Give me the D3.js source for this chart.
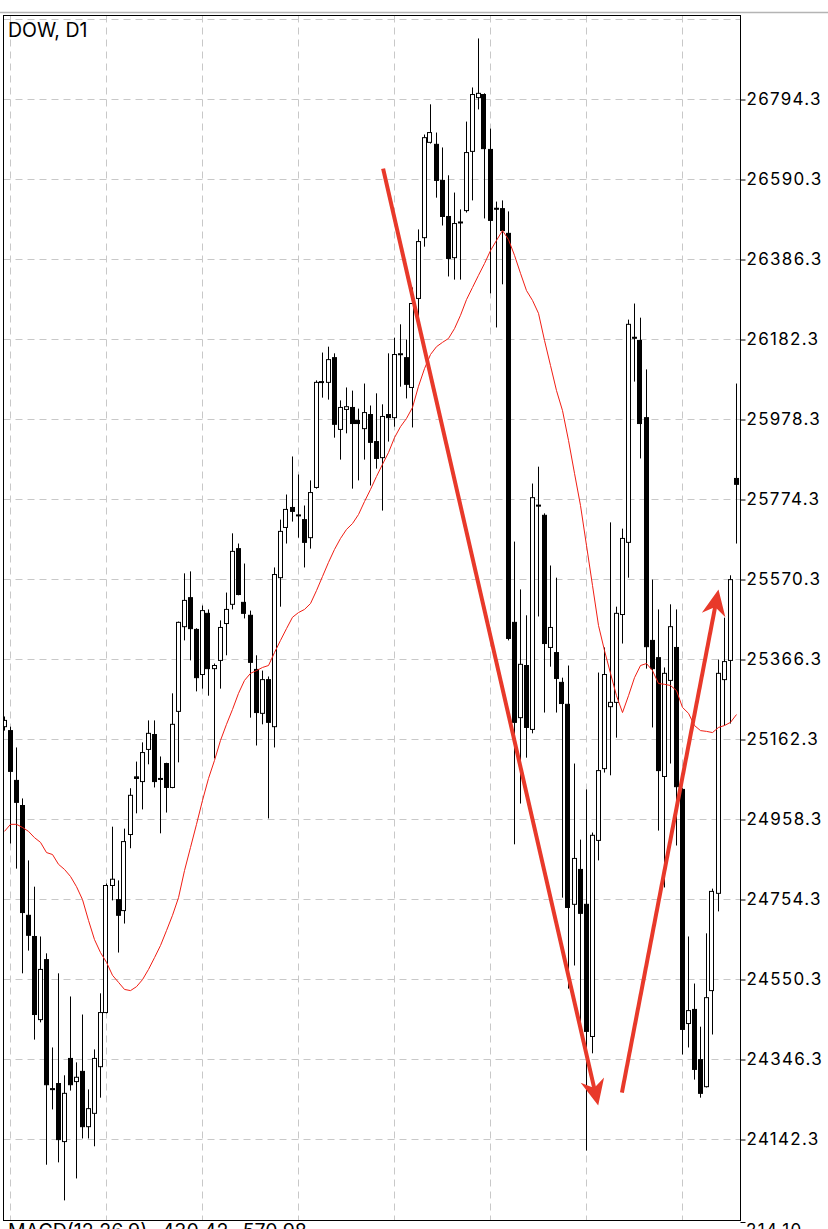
<!DOCTYPE html>
<html>
<head>
<meta charset="utf-8">
<script src="https://cdn.jsdelivr.net/npm/d3@7"></script>
<style>
  body { margin: 0; background: #fff; }
  svg { display: block; }
</style>
</head>
<body>
<script>
// DOW daily candles (one entry per bar, left to right)
var openP = [25195,25185,25058,24994,24714,24660,24448,24601,24272,24285,
  24137,24349,24290,24316,24175,24209,24328,24466,24790,24754,
  24726,24920,25067,25055,25137,25175,25063,25101,25040,25234,
  25450,25524,25443,25328,25484,25343,25364,25458,25507,25649,
  25512,25479,25341,25229,25315,25195,25575,25703,25754,25735,
  25723,25677,25805,26073,26073,26136,25953,26004,26009,25976,
  25955,25991,25922,25881,25991,25983,26144,26136,26060,26287,
  26442,26685,26680,26588,26496,26391,26480,26511,26662,26799,
  26807,26667,26517,26516,26453,25461,25218,25351,25188,25760,
  25734,25397,25384,25308,25252,24742,24831,24742,24405,24905,
  25088,25246,25257,25481,25665,26188,26180,25983,25415,25371,
  25068,25313,25397,25035,24438,24474,24346,24277,24522,24770,
  25315,25364,25828];
var highP = [25221,25195,25142,25012,24854,24787,24660,24617,24377,24566,
  24306,24507,24339,24461,24270,24372,24515,24795,24940,24803,
  24935,25038,25106,25155,25211,25211,25119,25103,25280,25463,
  25586,25591,25446,25504,25494,25356,25466,25537,25688,25662,
  25611,25491,25377,25338,25323,25601,25723,25787,25884,25838,
  25759,25823,26078,26149,26164,26147,26027,26060,26052,26006,
  26070,26014,26045,26017,26147,26187,26221,26182,26315,26463,
  26705,26782,26710,26672,26601,26557,26514,26738,26825,26950,
  26810,26720,26534,26537,26509,25667,25545,25479,25815,25858,
  25739,25606,25575,25320,25351,25101,24907,25035,24925,25333,
  25397,25716,25501,25700,26233,26274,26238,26106,25570,25494,
  25346,25507,25494,25038,24660,24540,24430,24668,24782,25366,
  25473,25581,26070];
var lowP = [25185,24897,24833,24566,24624,24397,24441,24078,24219,24084,
  23987,24267,24043,24145,24145,24125,24249,24464,24752,24619,
  24693,24885,24974,24984,25099,25040,24923,24976,25038,25104,
  25415,25364,25285,25292,25274,25114,25292,25377,25494,25530,
  25471,25218,25147,25201,24961,25142,25501,25662,25718,25677,
  25601,25649,25802,26034,26029,25932,25876,25943,25802,25823,
  25876,25810,25853,25746,25922,25960,26062,26032,25958,26236,
  26419,26682,26544,26473,26343,26335,26335,26506,26537,26769,
  26491,26300,26213,26323,25415,24895,24999,25116,25178,25476,
  25231,25348,25231,24759,24527,24586,24438,24114,24362,24854,
  25078,25071,25167,25407,25575,26075,25879,25343,25193,24930,
  24785,25101,24892,24359,24377,24295,24249,24275,24410,24724,
  25198,25203,25662];
var closeP = [25211,25081,25002,24721,24663,24461,24576,24282,24270,24142,
  24260,24282,24301,24175,24221,24349,24466,24790,24806,24714,
  24902,25020,25063,25129,25178,25055,25061,25040,25201,25461,
  25517,25445,25320,25491,25343,25351,25448,25494,25642,25532,
  25484,25359,25231,25315,25206,25583,25693,25749,25744,25733,
  25665,25792,26073,26075,26131,25966,26009,26011,25968,25968,
  25996,25920,25879,25986,25983,26144,26146,26068,26274,26432,
  26697,26710,26588,26496,26389,26478,26482,26659,26807,26810,
  26669,26486,26515,26460,25420,25206,25354,25193,25779,25758,
  25407,25448,25318,25254,24734,24859,24719,24418,24918,25083,
  25328,25257,25484,25675,26221,26186,25968,25399,25343,25083,
  25331,25450,25042,24423,24471,24321,24260,24504,24775,25331,
  25361,25570,25813];
// red moving average
var maP = [24928,24946,24946,24938,24928,24912,24900,24874,24869,24844,
  24831,24813,24787,24754,24701,24652,24619,24594,24561,24543,
  24525,24522,24532,24550,24576,24606,24637,24675,24714,24759,
  24828,24887,24946,25007,25063,25109,25160,25201,25239,25280,
  25313,25331,25338,25346,25351,25384,25415,25445,25474,25486,
  25494,25509,25542,25578,25614,25647,25675,25698,25713,25736,
  25769,25800,25833,25864,25894,25932,25960,25981,26009,26063,
  26108,26144,26164,26175,26185,26210,26244,26284,26315,26346,
  26376,26409,26435,26460,26437,26397,26351,26307,26282,26249,
  26180,26116,26052,26001,25925,25841,25759,25657,25555,25453,
  25389,25331,25274,25231,25274,25320,25351,25356,25338,25305,
  25303,25300,25287,25244,25229,25198,25185,25183,25180,25193,
  25198,25206,25226];

var priceTicks = [24142.3,24346.3,24550.3,24754.3,24958.3,25162.3,25366.3,
  25570.3,25774.3,25978.3,26182.3,26386.3,26590.3,26794.3];
var gridTop = 26998.3;
var gridBars = [1,17,33,49,65,81,97,113];

// hand-drawn trend arrows: [bar index, price]
var arrowFrom = [[63.1, 26618], [102.9, 24262]];
var arrowTo = [[98.95, 24229], [119, 25545]];

var chartTitle = "DOW, D1";
var macdTitle = "MACD(12,26,9) -430.42 -570.98";
var macdTopTick = "214.10";

var W = 828, H = 1229;
var plotL = 3.5, plotR = 740.5, plotT = 15.5, plotB = 1220.5;

var svg = d3.select("body").append("svg")
  .attr("width", W)
  .attr("height", H)
  .style("background", "#fff");

var x = d3.scaleLinear().domain([0, openP.length - 1]).range([4.5, 736.5]);
var y = d3.scaleLinear().domain([24142.3, 26794.3]).range([1139.5, 99.5]);

svg.append("defs").append("clipPath").attr("id", "plotclip")
  .append("rect")
  .attr("x", plotL).attr("y", plotT)
  .attr("width", plotR - plotL).attr("height", plotB - plotT);

// window top line
svg.append("line")
  .attr("x1", 0).attr("x2", W).attr("y1", 12.5).attr("y2", 12.5)
  .attr("stroke", "#b4b4b4").attr("stroke-width", 1.5);

var plot = svg.append("g").attr("clip-path", "url(#plotclip)");

// grid
plot.selectAll(".hgrid")
  .data(priceTicks.concat([gridTop]))
  .enter().append("line")
  .attr("class", "hgrid")
  .attr("x1", plotL).attr("x2", plotR)
  .attr("y1", d => y(d)).attr("y2", d => y(d))
  .attr("stroke", "#c8c8c8")
  .attr("stroke-dasharray", "7,5");

plot.selectAll(".vgrid")
  .data(gridBars)
  .enter().append("line")
  .attr("class", "vgrid")
  .attr("x1", d => x(d)).attr("x2", d => x(d))
  .attr("y1", plotT).attr("y2", plotB)
  .attr("stroke", "#c8c8c8")
  .attr("stroke-dasharray", "7,5");

// candles
var bars = d3.range(openP.length);

plot.selectAll(".wick")
  .data(bars)
  .enter().append("line")
  .attr("class", "wick")
  .attr("x1", i => x(i)).attr("x2", i => x(i))
  .attr("y1", i => y(highP[i])).attr("y2", i => y(lowP[i]))
  .attr("stroke", "#000");

plot.selectAll(".body")
  .data(bars)
  .enter().append("rect")
  .attr("class", "body")
  .attr("x", i => Math.round(x(i)) - 2.5)
  .attr("width", 4)
  .attr("y", i => y(Math.max(openP[i], closeP[i])))
  .attr("height", i => Math.max(1, Math.abs(y(openP[i]) - y(closeP[i]))))
  .attr("fill", i => closeP[i] >= openP[i] ? "#fff" : "#000")
  .attr("stroke", "#000");

// moving average
plot.append("path")
  .datum(maP)
  .attr("fill", "none")
  .attr("stroke", "#f01e14")
  .attr("stroke-width", 1)
  .attr("d", d3.line().x((d, i) => x(i)).y(d => y(d)));

// arrows
var arrowCol = "#e8392a";
arrowFrom.forEach(function(a, j) {
  var x0 = x(a[0]), y0 = y(a[1]);
  var x1 = x(arrowTo[j][0]), y1 = y(arrowTo[j][1]);
  var len = Math.hypot(x1 - x0, y1 - y0);
  var ux = (x1 - x0) / len, uy = (y1 - y0) / len;
  var nx = -uy, ny = ux;
  plot.append("line")
    .attr("x1", x0).attr("y1", y0)
    .attr("x2", x1 - 16 * ux).attr("y2", y1 - 16 * uy)
    .attr("stroke", arrowCol).attr("stroke-width", 4);
  var pts = [
    [x1, y1],
    [x1 - 26 * ux + 12 * nx, y1 - 26 * uy + 12 * ny],
    [x1 - 18 * ux, y1 - 18 * uy],
    [x1 - 26 * ux - 12 * nx, y1 - 26 * uy - 12 * ny]
  ];
  plot.append("polygon")
    .attr("points", pts.map(p => p.join(",")).join(" "))
    .attr("fill", arrowCol);
});

// frame
svg.append("rect")
  .attr("x", plotL).attr("y", plotT)
  .attr("width", plotR - plotL).attr("height", plotB - plotT)
  .attr("fill", "none").attr("stroke", "#000");

// price axis
var axis = svg.append("g")
  .attr("transform", "translate(" + plotR + ",0)")
  .call(d3.axisRight(y).tickValues(priceTicks).tickSize(5).tickPadding(1)
    .tickFormat(d3.format(".1f")));
axis.select(".domain").remove();
axis.selectAll("line").attr("stroke", "#000");
axis.selectAll("text")
  .attr("font-family", "Inter, 'DejaVu Sans', sans-serif")
  .attr("font-size", 17)
  .attr("letter-spacing", "1.3px")
  .attr("fill", "#000");

// title
svg.append("text")
  .attr("x", 8).attr("y", 37)
  .attr("font-family", "Inter, 'Liberation Sans', sans-serif")
  .attr("font-size", 19.5)
  .attr("fill", "#000")
  .text(chartTitle);

// sub-window header, cut by the bottom edge as in the reference
svg.append("line")
  .attr("x1", plotR).attr("x2", plotR + 5)
  .attr("y1", 1222.5).attr("y2", 1222.5)
  .attr("stroke", "#000");
svg.append("text")
  .attr("x", 8).attr("y", 1238)
  .attr("font-family", "Inter, 'Liberation Sans', sans-serif")
  .attr("font-size", 19.5)
  .attr("fill", "#000")
  .text(macdTitle);
svg.append("text")
  .attr("x", 746).attr("y", 1236)
  .attr("font-family", "Inter, 'DejaVu Sans', sans-serif")
  .attr("font-size", 17)
  .attr("letter-spacing", "1.3px")
  .attr("fill", "#000")
  .text(macdTopTick);
</script>
</body>
</html>
